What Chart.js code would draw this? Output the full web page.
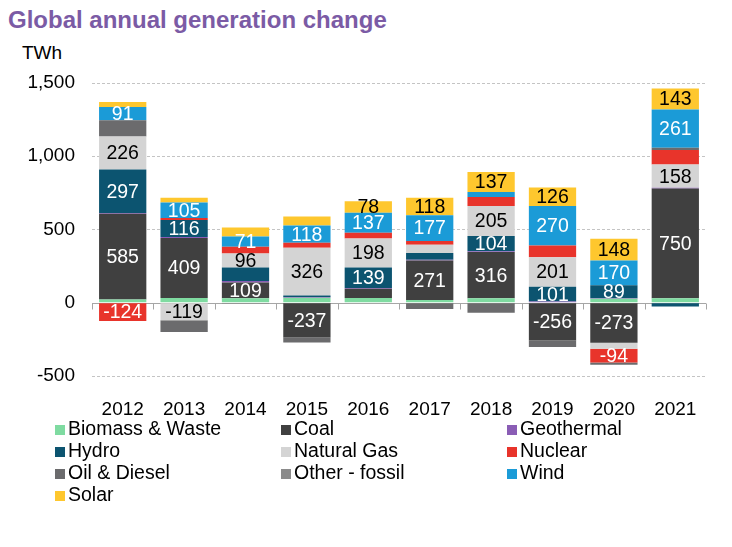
<!DOCTYPE html>
<html>
<head>
<meta charset="utf-8">
<script src="https://cdn.jsdelivr.net/npm/chart.js@4.4.1/dist/chart.umd.min.js"></script>
<style>
  html, body { margin: 0; padding: 0; background: #fff; }
  body { width: 732px; height: 547px; position: relative; overflow: hidden;
         font-family: "Liberation Sans", Arial, sans-serif; }
  #title { position: absolute; left: 8px; top: 6px; font-size: 24px; font-weight: bold; color: #7b5ba5; }
  #unit { position: absolute; left: 22px; top: 42px; font-size: 19px; color: #000; }
  #chart { position: absolute; left: 0; top: 0; }
  #legend { position: absolute; left: 55px; top: 417px; width: 680px; }
  .item { position: absolute; font-size: 19.5px; color: #000; white-space: nowrap; line-height: 22px; }
  .item i { display: inline-block; width: 10px; height: 10px; margin-right: 3px; vertical-align: 0px; }
</style>
</head>
<body>
<div id="title">Global annual generation change</div>
<div id="unit">TWh</div>
<canvas id="chart" width="732" height="547"></canvas>
<div id="legend"></div>
<script>
// values in TWh
const years = ['2012', '2013', '2014', '2015', '2016', '2017', '2018', '2019', '2020', '2021'];
const biomass = [23, 33, 30, 34, 33, 18, 30, 4, 27, 30];
const coal = [585, 409, 109, -237, 62, 271, 316, -256, -273, 750];
const geothermal = [4, 6, 10, 5, 6, 4, 5, 4, 3, 5];
const hydro = [297, 116, 92, 10, 139, 46, 104, 101, 89, -25];
const naturalGas = [226, -119, 96, 326, 198, 57, 205, 201, -41, 158];
const nuclear = [-124, 15, 45, 34, 40, 25, 62, 80, -94, 100];
const oilDiesel = [110, -80, -5, -34, -3, -43, -68, -46, -16, 15];
const otherFossil = [0, 0, 0, 0, 0, 0, 0, 0, 0, 0];
const wind = [91, 105, 71, 118, 137, 177, 34, 270, 170, 261];
const solar = [34, 32, 60, 62, 78, 118, 137, 126, 148, 143];

const yTicks = [-500, 0, 500, 1000, 1500];

// which segments carry a value label
const labelled = {
  'Coal': ['2012', '2013', '2014', '2015', '2017', '2018', '2019', '2020', '2021'],
  'Hydro': ['2012', '2013', '2016', '2018', '2019', '2020'],
  'Natural Gas': ['2012', '2013', '2014', '2015', '2016', '2018', '2019', '2021'],
  'Nuclear': ['2012', '2020'],
  'Wind': ['2012', '2013', '2014', '2015', '2016', '2017', '2019', '2020', '2021'],
  'Solar': ['2016', '2017', '2018', '2019', '2020', '2021'],
};

const series = [
  { name: 'Biomass & Waste', data: biomass, color: '#7fdba1', text: '#fff' },
  { name: 'Coal', data: coal, color: '#404040', text: '#fff' },
  { name: 'Geothermal', data: geothermal, color: '#8a5db5', text: '#fff' },
  { name: 'Hydro', data: hydro, color: '#0c5470', text: '#fff' },
  { name: 'Natural Gas', data: naturalGas, color: '#d4d4d4', text: '#000' },
  { name: 'Nuclear', data: nuclear, color: '#e8342b', text: '#fff' },
  { name: 'Oil & Diesel', data: oilDiesel, color: '#6b6b6d', text: '#fff' },
  { name: 'Other - fossil', data: otherFossil, color: '#8b8b8b', text: '#fff' },
  { name: 'Wind', data: wind, color: '#1b9bd7', text: '#fff' },
  { name: 'Solar', data: solar, color: '#fec72e', text: '#000' },
];

const FONT = '"Liberation Sans", Arial, sans-serif';

// zero line with the little category ticks hanging below it
const zeroAxis = {
  id: 'zeroAxis',
  beforeDatasetsDraw(chart) {
    const { ctx, chartArea, scales } = chart;
    const y0 = Math.round(scales.y.getPixelForValue(0)) + 0.5;
    const x = scales.x;
    ctx.save();
    ctx.strokeStyle = '#a6a6a6';
    ctx.lineWidth = 1;
    ctx.beginPath();
    ctx.moveTo(chartArea.left, y0);
    ctx.lineTo(chartArea.right, y0);
    for (let i = 0; i <= years.length; i++) {
      let px;
      if (i === 0) px = chartArea.left;
      else if (i === years.length) px = chartArea.right;
      else px = (x.getPixelForValue(i - 1) + x.getPixelForValue(i)) / 2;
      px = Math.round(px) + 0.5;
      ctx.moveTo(px, y0);
      ctx.lineTo(px, y0 + 6);
    }
    ctx.stroke();
    ctx.restore();
  },
};

const valueLabels = {
  id: 'valueLabels',
  afterDatasetsDraw(chart) {
    const { ctx } = chart;
    ctx.save();
    ctx.font = '19.5px ' + FONT;
    ctx.textAlign = 'center';
    ctx.textBaseline = 'middle';
    chart.data.datasets.forEach((ds, di) => {
      const s = series[di];
      const shown = labelled[s.name] || [];
      chart.getDatasetMeta(di).data.forEach((bar, i) => {
        if (!shown.includes(years[i])) return;
        const p = bar.getProps(['x', 'y', 'base'], true);
        ctx.fillStyle = s.text;
        ctx.fillText(String(ds.data[i]), p.x, (p.y + p.base) / 2 + 1);
      });
    });
    ctx.restore();
  },
};

new Chart(document.getElementById('chart'), {
  type: 'bar',
  data: {
    labels: years,
    datasets: series.map((s) => ({
      label: s.name,
      data: s.data,
      backgroundColor: s.color,
      borderWidth: 0,
      categoryPercentage: 1,
      barPercentage: 0.77,
    })),
  },
  options: {
    responsive: false,
    animation: false,
    layout: { padding: { left: 0, right: 26, top: 83, bottom: 131 } },
    plugins: { legend: { display: false }, tooltip: { enabled: false } },
    scales: {
      x: {
        stacked: true,
        grid: { display: false },
        border: { display: false },
        ticks: { color: '#000', font: { family: FONT, size: 19 }, padding: 14 },
        afterFit(scale) { scale.height = 40; },
      },
      y: {
        stacked: true,
        min: -500,
        max: 1500,
        afterBuildTicks(scale) { scale.ticks = yTicks.map((v) => ({ value: v })); },
        grid: {
          drawTicks: false,
          color: (c) => (c.tick && c.tick.value === 0 ? 'rgba(0,0,0,0)' : '#c4c4c4'),
        },
        border: { display: false, dash: [3, 2] },
        ticks: {
          color: '#000',
          padding: 17,
          font: { family: FONT, size: 19 },
          callback: (v) => v.toLocaleString('en-US'),
        },
        afterFit(scale) { scale.width = 92; },
      },
    },
  },
  plugins: [zeroAxis, valueLabels],
});

// legend laid out in three columns, filled row by row
const legend = document.getElementById('legend');
const colX = [0, 226, 452];
series.forEach((s, i) => {
  const el = document.createElement('div');
  el.className = 'item';
  el.style.left = colX[i % 3] + 'px';
  el.style.top = Math.floor(i / 3) * 22 + 'px';
  el.innerHTML = '<i style="background:' + s.color + '"></i>' + s.name;
  legend.appendChild(el);
});
</script>
</body>
</html>
